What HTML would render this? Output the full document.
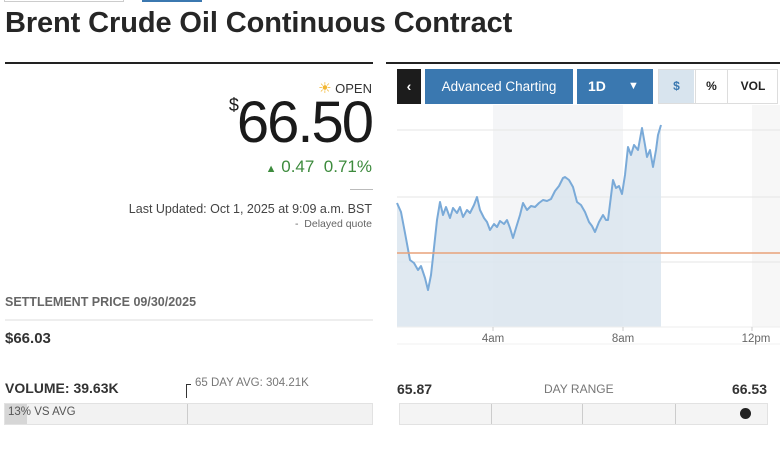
<!DOCTYPE html>
<html><head><meta charset="utf-8"><style>
*{margin:0;padding:0;box-sizing:border-box}
body{width:780px;height:470px;background:#fff;position:relative;overflow:hidden;font-family:"Liberation Sans",sans-serif;color:#222}
.a{position:absolute;white-space:nowrap}
</style></head><body>
<div class="a" style="left:4px;top:-2px;width:120px;height:4px;border:1px solid #ccc;border-top:none"></div>
<div class="a" style="left:142px;top:0;width:60px;height:2px;background:#3b78b0"></div>
<div class="a" style="left:5px;top:7px;font-size:29px;font-weight:bold;color:#262626;letter-spacing:-0.1px">Brent Crude Oil Continuous Contract</div>
<div class="a" style="left:5px;top:62px;width:368px;height:2px;background:#222"></div>
<div class="a" style="left:386px;top:62px;width:394px;height:2px;background:#222"></div>

<div class="a" style="right:408px;top:79px;font-size:13px;color:#333"><span style="color:#f2b632;font-size:15px">☀</span> OPEN</div>
<div class="a" style="right:408px;top:92px;font-size:58px;color:#1a1a1a;letter-spacing:-2px;line-height:62px"><span style="font-size:18px;vertical-align:top;line-height:26px">$</span>66.50</div>
<div class="a" style="right:408px;top:157px;font-size:17px;color:#3d8b3d"><span style="font-size:11px">▲</span> 0.47&nbsp; 0.71%</div>
<div class="a" style="left:350px;top:189px;width:23px;height:1px;background:#bbb"></div>
<div class="a" style="right:408px;top:202px;font-size:12.5px;color:#444">Last Updated: Oct 1, 2025 at 9:09 a.m. BST</div>
<div class="a" style="right:408px;top:218px;font-size:10.5px;color:#666">- &nbsp;Delayed quote</div>

<div class="a" style="left:5px;top:295px;font-size:12.5px;color:#666;font-weight:bold">SETTLEMENT PRICE 09/30/2025</div>
<div class="a" style="left:5px;top:319px;width:368px;height:2px;background:#eee"></div>
<div class="a" style="left:5px;top:330px;font-size:15px;font-weight:bold;color:#333">$66.03</div>

<div class="a" style="left:5px;top:380px;font-size:14px;font-weight:bold;color:#333">VOLUME: 39.63K</div>
<div class="a" style="left:195px;top:377px;font-size:11.5px;color:#777">65 DAY AVG: 304.21K</div>
<div class="a" style="left:186px;top:384px;width:5px;height:1px;background:#333"></div>
<div class="a" style="left:186px;top:384px;width:1px;height:14px;background:#333"></div>
<div class="a" style="left:4px;top:403px;width:369px;height:22px;background:#f2f2f2;border:1px solid #e2e2e2"></div>
<div class="a" style="left:5px;top:404px;width:22px;height:20px;background:#d6d6d6"></div>
<div class="a" style="left:187px;top:404px;width:1px;height:20px;background:#ccc"></div>
<div class="a" style="left:8px;top:406px;font-size:11.5px;color:#555">13% VS AVG</div>

<div class="a" style="left:397px;top:381px;font-size:14px;font-weight:bold;color:#333">65.87</div>
<div class="a" style="left:544px;top:382px;font-size:12px;color:#777">DAY RANGE</div>
<div class="a" style="right:13px;top:381px;font-size:14px;font-weight:bold;color:#333">66.53</div>
<div class="a" style="left:399px;top:403px;width:369px;height:22px;background:#f4f4f4;border:1px solid #e2e2e2"></div>
<div class="a" style="left:491px;top:404px;width:1px;height:20px;background:#ccc"></div>
<div class="a" style="left:582px;top:404px;width:1px;height:20px;background:#ccc"></div>
<div class="a" style="left:675px;top:404px;width:1px;height:20px;background:#ccc"></div>
<div class="a" style="left:740px;top:408px;width:11px;height:11px;border-radius:50%;background:#222"></div>

<div class="a" style="left:397px;top:69px;width:24px;height:35px;background:#1c1c1c;color:#fff;font-size:14px;text-align:center;line-height:35px;font-weight:bold">‹</div>
<div class="a" style="left:425px;top:69px;width:148px;height:35px;background:#3a78b0;color:#fff;font-size:13.5px;text-align:center;line-height:35px">Advanced Charting</div>
<div class="a" style="left:577px;top:69px;width:76px;height:35px;background:#3a78b0;color:#fff;font-size:14px;line-height:35px;padding-left:11px;font-weight:bold">1D <span style="position:absolute;left:51px;font-size:11px">▼</span></div>
<div class="a" style="left:658px;top:69px;width:120px;height:35px;border:1px solid #ddd;background:#fff"></div>
<div class="a" style="left:659px;top:70px;width:35px;height:33px;background:#d8e4ee;color:#3a78b0;font-size:12px;font-weight:bold;text-align:center;line-height:33px">$</div>
<div class="a" style="left:695px;top:70px;width:33px;height:33px;border-left:1px solid #ddd;border-right:1px solid #ddd;font-size:12px;font-weight:bold;text-align:center;line-height:33px">%</div>
<div class="a" style="left:729px;top:70px;width:48px;height:33px;font-size:12px;font-weight:bold;text-align:center;line-height:33px">VOL</div>

<svg class="a" style="left:0;top:0" width="780" height="470">
<rect x="493" y="105" width="130" height="222" fill="#f4f5f7"/>
<rect x="752" y="105" width="28" height="222" fill="#f7f7f7"/>
<line x1="397" y1="130" x2="780" y2="130" stroke="#e6e6e6"/>
<line x1="397" y1="197" x2="780" y2="197" stroke="#e6e6e6"/>
<line x1="397" y1="262" x2="780" y2="262" stroke="#e6e6e6"/>
<polygon fill="#dbe5ee" fill-opacity="0.85" points="397,327 397,203 401,212 405,233 410,260 414,263 418,270 421,266 425,278 428,290 431,275 433,257 437,220 440,202 443,215 446,207 450,218 453,208 457,213 460,207 463,217 467,210 470,213 474,205 477,197 480,210 484,218 487,222 490,230 494,224 497,227 500,221 504,224 507,220 510,228 513,238 516,228 520,215 523,203 527,210 531,206 535,207 539,203 543,200 547,201 551,199 555,191 559,186 563,178 565,177 569,180 573,187 577,202 581,205 585,212 589,222 592,226 595,232 599,222 603,215 606,220 608,220 610,204 613,180 616,188 619,186 622,194 625,175 628,147 631,155 634,145 638,150 642,128 645,145 647,157 650,150 653,167 656,150 658,135 661,125 661,327"/>
<polyline fill="none" stroke="#7aaad8" stroke-width="2" stroke-linejoin="round" points="397,203 401,212 405,233 410,260 414,263 418,270 421,266 425,278 428,290 431,275 433,257 437,220 440,202 443,215 446,207 450,218 453,208 457,213 460,207 463,217 467,210 470,213 474,205 477,197 480,210 484,218 487,222 490,230 494,224 497,227 500,221 504,224 507,220 510,228 513,238 516,228 520,215 523,203 527,210 531,206 535,207 539,203 543,200 547,201 551,199 555,191 559,186 563,178 565,177 569,180 573,187 577,202 581,205 585,212 589,222 592,226 595,232 599,222 603,215 606,220 608,220 610,204 613,180 616,188 619,186 622,194 625,175 628,147 631,155 634,145 638,150 642,128 645,145 647,157 650,150 653,167 656,150 658,135 661,125"/>
<line x1="397" y1="253" x2="780" y2="253" stroke="#e8a27a" stroke-width="1.5"/>
<line x1="397" y1="327" x2="780" y2="327" stroke="#eee"/>
<line x1="397" y1="344" x2="780" y2="344" stroke="#f0f0f0"/>
<line x1="493" y1="327" x2="493" y2="331" stroke="#ccc"/>
<line x1="623" y1="327" x2="623" y2="331" stroke="#ccc"/>
<line x1="752" y1="327" x2="752" y2="331" stroke="#ccc"/>
<g font-family="Liberation Sans, sans-serif" font-size="11.5" fill="#666" text-anchor="middle">
<text x="493" y="342">4am</text><text x="623" y="342">8am</text><text x="756" y="342">12pm</text>
</g>
</svg>
</body></html>
